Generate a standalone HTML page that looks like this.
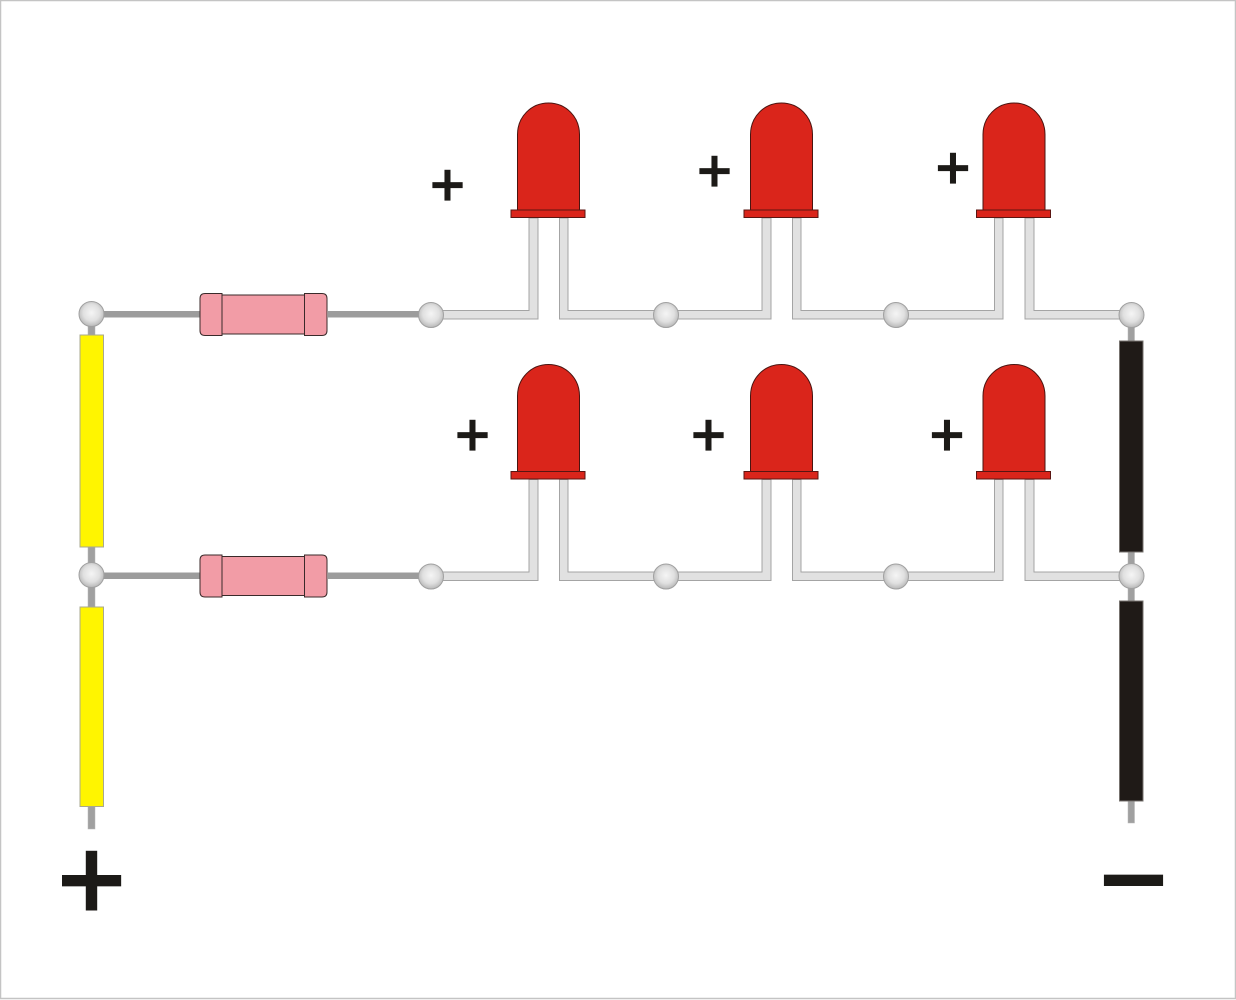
<!DOCTYPE html>
<html lang="en">
<head>
<meta charset="utf-8">
<title>LED circuit</title>
<style>
html,body{margin:0;padding:0;background:#fff}
svg{display:block}
text{font-family:"Liberation Sans",sans-serif;font-weight:bold;fill:#1c1a17;text-anchor:middle;stroke:#fff}
</style>
</head>
<body>
<svg xmlns="http://www.w3.org/2000/svg" width="1236" height="1000" viewBox="0 0 1236 1000">
<defs>
<radialGradient id="ball" cx="0.5" cy="0.45" r="0.55">
<stop offset="0" stop-color="#f5f5f5"/><stop offset="0.6" stop-color="#e0e0e0"/><stop offset="1" stop-color="#b8b8b8"/>
</radialGradient>
<g id="led">
<path d="M517.500 210V134.500C517.500 117 531 103 548.500 103S579.500 117 579.500 134.500V210Z" fill="#da251b" stroke="#4a1410" stroke-width="1"/>
<rect x="511" y="210" width="74" height="7.500" fill="#da251b" stroke="#5a1512" stroke-width="1"/>
</g>
<g id="res">
<rect x="222" y="295" width="83" height="39" fill="#f29ca6" stroke="#3a2a2a" stroke-width="1"/>
<path d="M222 293.500H205Q200 293.500 200 298.500V330.500Q200 335.500 205 335.500H222Z" fill="#f29ca6" stroke="#3a2a2a" stroke-width="1"/>
<path d="M304.500 293.500H322Q327 293.500 327 298.500V330.500Q327 335.500 322 335.500H304.500Z" fill="#f29ca6" stroke="#3a2a2a" stroke-width="1"/>
</g>
<g id="row">
<g fill="#e1e1e1" stroke="#a4a4a4" stroke-width="1">
<path d="M440 310.500H529V218H538V319H440Z"/>
<path d="M559.500 218H568V310.500H660V319H559.500Z"/>
<path d="M672 310.500H762V218H771V319H672Z"/>
<path d="M792.500 218H801V310.500H890V319H792.500Z"/>
<path d="M902 310.500H994.500V218H1003V319H902Z"/>
<path d="M1025 218H1034V310.500H1125V319H1025Z"/>
</g>
<rect x="328" y="311" width="95" height="6.500" fill="#9c9c9c"/>
<rect x="100" y="311" width="100" height="6.500" fill="#9c9c9c"/>
<use href="#res"/>
<use href="#led"/>
<use href="#led" x="233"/>
<use href="#led" x="465.500"/>
<g fill="url(#ball)" stroke="#a0a0a0" stroke-width="1">
<circle cx="431" cy="315" r="12.500"/>
<circle cx="666" cy="315" r="12.500"/>
<circle cx="896" cy="315" r="12.500"/>
</g>
</g>
</defs>

<rect x="0.500" y="0.500" width="1235" height="998" fill="#fff" stroke="#c4c4c4" stroke-width="1.500"/>

<!-- vertical supply leads -->
<rect x="88" y="320" width="7" height="509" fill="#a0a0a0" stroke="#b8b8b8" stroke-width="0.500"/>
<rect x="1128" y="320" width="6.500" height="503" fill="#a0a0a0" stroke="#b8b8b8" stroke-width="0.500"/>

<use href="#row"/>
<use href="#row" y="261.500"/>

<!-- wires -->
<rect x="80" y="335" width="23.500" height="212" fill="#fff500" stroke="#a8a890" stroke-width="1"/>
<rect x="80" y="607" width="23.500" height="199.500" fill="#fff500" stroke="#a8a890" stroke-width="1"/>
<rect x="1119.500" y="341" width="23.500" height="211" fill="#1f1a17" stroke="#77736f" stroke-width="1"/>
<rect x="1119.500" y="601" width="23.500" height="200" fill="#1f1a17" stroke="#77736f" stroke-width="1"/>

<!-- end nodes -->
<g fill="url(#ball)" stroke="#a0a0a0" stroke-width="1">
<circle cx="91.500" cy="314" r="12.500"/>
<circle cx="91.500" cy="575" r="12.500"/>
<circle cx="1131.500" cy="315" r="12.500"/>
<circle cx="1131.500" cy="576" r="12.500"/>
</g>

<!-- polarity labels -->
<g stroke-width="0.800">
<text x="447.500" y="206" font-size="62">+</text>
<text x="714.500" y="192" font-size="62">+</text>
<text x="953" y="189" font-size="62">+</text>
<text x="472.500" y="456" font-size="62">+</text>
<text x="708.500" y="456" font-size="62">+</text>
<text x="947" y="456" font-size="62">+</text>
</g>
<g stroke-width="2">
<text x="91.500" y="921" font-size="122">+</text>
<text x="1133.500" y="921" font-size="122">&#8722;</text>
</g>
</svg>
</body>
</html>
